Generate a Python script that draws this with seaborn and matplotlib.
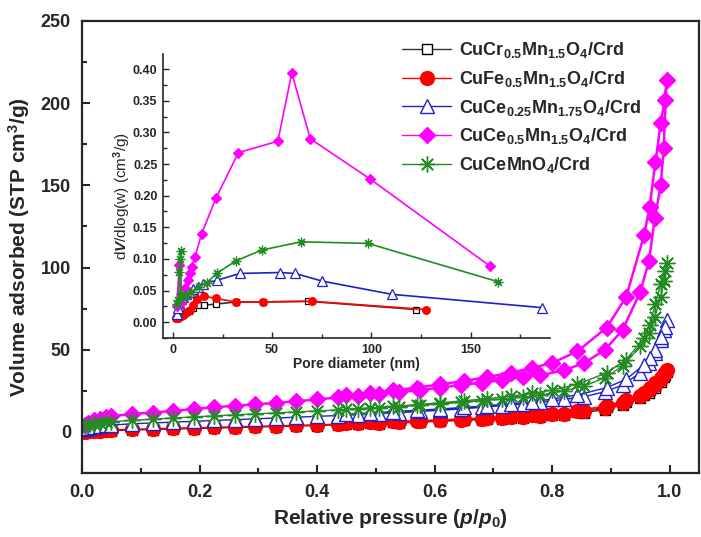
import matplotlib
matplotlib.use("Agg")
import matplotlib.pyplot as plt
from matplotlib.ticker import MultipleLocator, FormatStrFormatter
import seaborn as sns

# ---------------- N2 isotherm data (relative pressure, volume adsorbed) ----------------
p_ads = [0.005, 0.01, 0.02, 0.03, 0.04, 0.05, 0.085, 0.12, 0.155, 0.19, 0.225, 0.26,
         0.295, 0.33, 0.365, 0.40, 0.435, 0.47, 0.505, 0.54, 0.575, 0.61, 0.645, 0.68,
         0.715, 0.75, 0.78, 0.82, 0.855, 0.89, 0.92, 0.95, 0.965, 0.975, 0.985, 0.99, 0.995]
p_des = [0.992, 0.985, 0.976, 0.966, 0.957, 0.926, 0.893, 0.843, 0.80, 0.766, 0.73,
         0.69, 0.65, 0.61, 0.57, 0.53, 0.49, 0.45]

cr_ads = [-0.5, -0.2, 0.1, 0.4, 0.6, 0.8, 1.2, 1.5, 1.8, 2.1, 2.4, 2.7, 3.0, 3.3, 3.6,
          3.9, 4.3, 4.7, 5.1, 5.5, 6.0, 6.5, 7.0, 7.5, 8.1, 8.7, 9.3, 10.4, 11.8, 13.6,
          16.5, 20.5, 24.0, 27.0, 30.5, 33.5, 36.5]
cr_des = [34.5, 31.5, 28, 25.5, 22.5, 18.5, 15.2, 12.3, 10.6, 9.6, 8.8, 8.1, 7.5, 6.9,
          6.4, 5.9, 5.4, 4.9]

fe_ads = [0, 0.3, 0.6, 0.9, 1.1, 1.3, 1.7, 2.0, 2.3, 2.6, 2.9, 3.2, 3.5, 3.8, 4.1, 4.4,
          4.8, 5.2, 5.6, 6.0, 6.5, 7.0, 7.5, 8.0, 8.6, 9.2, 9.8, 11.0, 12.5, 14.5, 17.5,
          22.0, 25.5, 28.5, 32.0, 35.0, 38.0]
fe_des = [36, 33, 29.5, 27, 24, 19.5, 16, 13, 11.2, 10.2, 9.4, 8.7, 8.0, 7.4, 6.9, 6.4,
          5.9, 5.4]

ce025_ads = [2, 2.5, 3, 3.5, 4, 4.2, 5, 5.5, 6, 6.5, 7, 7.5, 8, 8.5, 9, 9.5, 10, 10.6,
             11.2, 11.8, 12.5, 13.2, 14, 15, 16, 17, 18, 19.8, 21.5, 24.5, 28.5, 36, 42,
             48, 56, 62, 68]
ce025_des = [64, 58, 50, 45, 41, 32, 27, 22.5, 20, 18.5, 17.2, 16, 15, 14, 13.2, 12.4,
             11.6, 10.9]

ce05_ads = [4.5, 5.5, 7, 8, 9, 9.5, 11, 11.8, 12.8, 14, 15, 16, 16.8, 17.7, 18.7, 19.8,
            21, 22, 23, 24.2, 25.5, 27, 28.5, 30, 31.5, 33.5, 34.5, 37.5, 42, 50, 62, 85,
            104, 130, 150, 173, 214]
ce05_des = [202, 188, 164, 137, 120, 82, 63.5, 49, 42, 39, 36, 33.5, 31, 29, 27, 25.3,
            23.8, 22.2]

ce1_ads = [3.5, 4.2, 5, 5.6, 6, 6.3, 7, 7.8, 8.5, 9.2, 9.8, 10.4, 11, 11.6, 12.2, 12.8,
           13.4, 14, 14.7, 15.4, 16.2, 17, 18, 19, 20, 21.2, 22.5, 25, 28, 33, 40, 52, 60,
           70, 82, 92, 103]
ce1_des = [98, 90, 78, 65, 57, 44, 36, 29, 25.5, 23.5, 21.8, 20.3, 19, 17.8, 16.6, 15.6,
           14.6, 13.7]

# ---------------- pore size distribution (BJH) ----------------
cr_d = [1.5, 2, 3, 4, 5, 6, 8, 10, 12.8, 15.7, 21.7, 31.7, 45.3, 68.3, 122.7]
cr_v = [0.006, 0.007, 0.008, 0.010, 0.012, 0.014, 0.018, 0.022, 0.027, 0.027, 0.0285,
        0.032, 0.032, 0.033, 0.020]
fe_d = [1.5, 2, 2.5, 3, 3.5, 4, 5, 6, 7, 8.6, 10, 12, 15.7, 21.7, 31.7, 45.3, 70, 127.3]
fe_v = [0.006, 0.006, 0.007, 0.008, 0.009, 0.010, 0.012, 0.014, 0.016, 0.019, 0.027,
        0.036, 0.041, 0.0375, 0.032, 0.032, 0.033, 0.020]
ce025_d = [1.9, 2.5, 3.2, 4, 5, 6.5, 8, 10, 12.5, 15.3, 22, 33.8, 54, 61.6, 75.1, 110.4,
           185.9]
ce025_v = [0.013, 0.022, 0.030, 0.036, 0.040, 0.044, 0.048, 0.052, 0.056, 0.061, 0.066,
           0.077, 0.0785, 0.077, 0.065, 0.044, 0.023]
ce05_d = [1.9, 3.2, 4.0, 5, 6, 7.7, 8.6, 9.4, 11.1, 14.5, 21.7, 33.0, 52.9, 59.9, 69.2,
          99.5, 159.6]
ce05_v = [0.025, 0.090, 0.030, 0.040, 0.054, 0.066, 0.077, 0.0865, 0.103, 0.140, 0.196,
          0.268, 0.286, 0.394, 0.290, 0.226, 0.089]
ce1_d = [2.2, 2.8, 3.3, 3.6, 3.9, 4.3, 5.0, 6.5, 9, 13, 17, 22, 31.8, 44.8, 64.6, 98.3,
         163.8]
ce1_v = [0.028, 0.035, 0.080, 0.100, 0.112, 0.045, 0.040, 0.042, 0.048, 0.055, 0.062,
         0.077, 0.097, 0.114, 0.127, 0.1245, 0.064]

labels = [r"$\mathbf{CuCr_{0.5}Mn_{1.5}O_4/Crd}$",
          r"$\mathbf{CuFe_{0.5}Mn_{1.5}O_4/Crd}$",
          r"$\mathbf{CuCe_{0.25}Mn_{1.75}O_4/Crd}$",
          r"$\mathbf{CuCe_{0.5}Mn_{1.5}O_4/Crd}$",
          r"$\mathbf{CuCeMnO_4/Crd}$"]

iso_ads = [cr_ads, fe_ads, ce025_ads, ce05_ads, ce1_ads]
iso_des = [cr_des, fe_des, ce025_des, ce05_des, ce1_des]
psd_d = [cr_d, fe_d, ce025_d, ce05_d, ce1_d]
psd_v = [cr_v, fe_v, ce025_v, ce05_v, ce1_v]

STAR = (8, 2, 0)
styles = [
    dict(color="#333333", marker="s", mfc="white", mec="black", ms=7.5, ims=4.5, lw=1.0),
    dict(color="#FF0000", marker="o", mfc="#FF0000", mec="#FF0000", ms=10, ims=5.5, lw=1.0),
    dict(color="#2020C8", marker="^", mfc="white", mec="#2020C8", ms=10.5, ims=6.5, lw=1.0),
    dict(color="#FF00FF", marker="D", mfc="#FF00FF", mec="#FF00FF", ms=8, ims=4.6, lw=1.8),
    dict(color="#228B22", marker=STAR, mfc="#228B22", mec="#228B22", ms=11.5, ims=7, lw=1.0),
]

sns.set_theme(style="ticks")
plt.rcParams.update({
    "font.family": ["Liberation Sans", "DejaVu Sans"],
    "font.weight": "bold",
    "mathtext.fontset": "custom",
    "mathtext.rm": "Liberation Sans",
    "mathtext.it": "Liberation Sans:italic",
    "mathtext.bf": "Liberation Sans:bold",
    "mathtext.bfit": "Liberation Sans:bold:italic",
    "axes.linewidth": 1.6,
    "xtick.direction": "in",
    "ytick.direction": "in",
})

fig = plt.figure(figsize=(7.01, 5.37), dpi=100)
ax = fig.add_axes([0.117, 0.119, 0.880, 0.842])

for ads, des, lab, st in zip(iso_ads, iso_des, labels, styles):
    x = p_ads + p_des
    y = ads + des
    sns.lineplot(x=x, y=y, ax=ax, sort=False, estimator=None, color=st["color"],
                 lw=st["lw"], marker=st["marker"], markersize=st["ms"],
                 markerfacecolor=st["mfc"], markeredgecolor=st["mec"],
                 markeredgewidth=1.0, label=lab)

ax.set_xlim(0, 1.05)
ax.set_ylim(-25, 250)
ax.xaxis.set_major_locator(MultipleLocator(0.2))
ax.xaxis.set_minor_locator(MultipleLocator(0.1))
ax.yaxis.set_major_locator(MultipleLocator(50))
ax.yaxis.set_minor_locator(MultipleLocator(25))
ax.xaxis.set_major_formatter(FormatStrFormatter("%.1f"))
ax.tick_params(which="major", length=6, width=1.5, labelsize=13, pad=8)
ax.tick_params(which="minor", length=3.5, width=1.5)
for t in ax.get_xticklabels() + ax.get_yticklabels():
    t.set_fontweight("bold")
ax.set_xlabel(r"Relative pressure ($\mathbfit{p}$/$\mathbfit{p}_\mathbf{0}$)",
              fontsize=15, fontweight="bold", labelpad=4)
ax.set_ylabel(r"Volume adsorbed (STP cm$^\mathbf{3}$/g)", fontsize=15,
              fontweight="bold", labelpad=6)

leg = ax.legend(loc="upper left", bbox_to_anchor=(0.574, 0.925),
                bbox_transform=fig.transFigure, frameon=False, fontsize=13,
                handlelength=2.7, handletextpad=0.45, labelspacing=0.48,
                borderpad=0, borderaxespad=0)
for h in leg.legend_handles:
    h.set_linewidth(1.0)

# ---------------- inset: pore size distribution ----------------
ins = fig.add_axes([0.2325, 0.3706, 0.552, 0.529])
for d, v, st in zip(psd_d, psd_v, styles):
    sns.lineplot(x=d, y=v, ax=ins, sort=False, estimator=None, color=st["color"],
                 lw=1.2, marker=st["marker"], markersize=st["ims"],
                 markerfacecolor=st["mfc"], markeredgecolor=st["mec"],
                 markeredgewidth=0.9, legend=False)
ins.set_xlim(-5, 190)
ins.set_ylim(-0.025, 0.424)
ins.patch.set_alpha(0)
ins.spines["top"].set_visible(False)
ins.spines["right"].set_visible(False)
ins.spines["left"].set_linewidth(1.2)
ins.spines["bottom"].set_linewidth(1.2)
ins.xaxis.set_major_locator(MultipleLocator(50))
ins.xaxis.set_minor_locator(MultipleLocator(25))
ins.yaxis.set_major_locator(MultipleLocator(0.05))
ins.yaxis.set_minor_locator(MultipleLocator(0.025))
ins.yaxis.set_major_formatter(FormatStrFormatter("%.2f"))
ins.tick_params(which="major", length=4.5, width=1.0, labelsize=9, pad=4)
ins.tick_params(which="minor", length=3, width=1.0)
ins.tick_params(axis="y", which="both", right=False)
ins.tick_params(axis="x", which="both", top=False)
for t in ins.get_xticklabels() + ins.get_yticklabels():
    t.set_fontweight("bold")
ins.set_xlabel("Pore diameter (nm)", fontsize=10, fontweight="bold", labelpad=1)
ins.set_ylabel(r"d$\mathit{V}$/dlog(w) (cm$^3$/g)", fontsize=11, fontweight="normal",
               labelpad=0)

fig.savefig("out.png", dpi=100)
